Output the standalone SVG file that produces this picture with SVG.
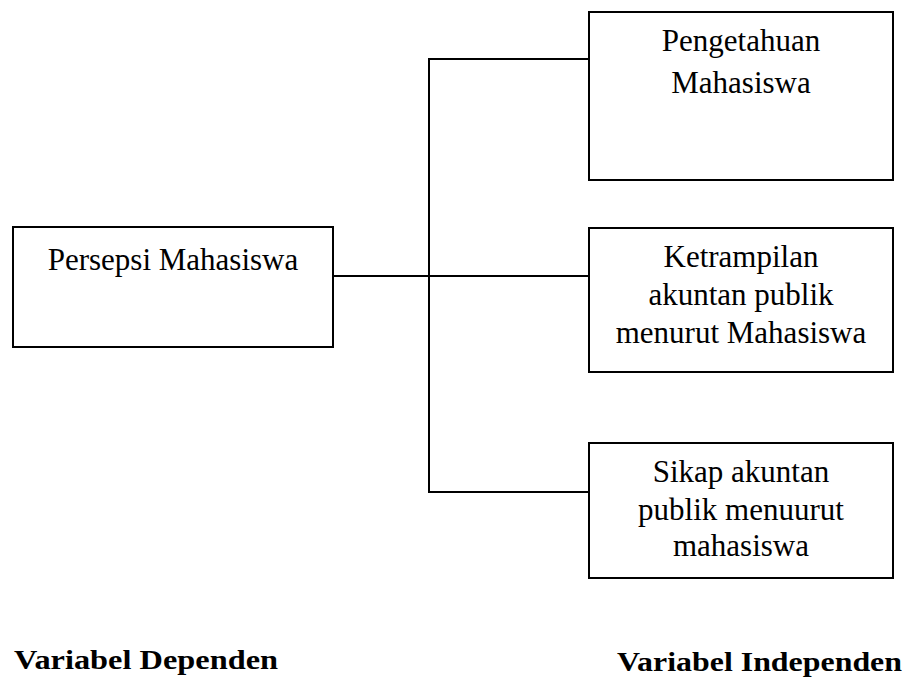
<svg xmlns="http://www.w3.org/2000/svg" width="912" height="680" viewBox="0 0 912 680">
<style>
.box{fill:#fff;stroke:#000;stroke-width:2}
.t{font-family:"Liberation Serif","Times New Roman",serif;font-size:31px;fill:#000;text-anchor:middle}
.b{font-family:"Liberation Serif","Times New Roman",serif;font-size:27px;font-weight:bold;fill:#000}
.c{fill:none;stroke:#000;stroke-width:2}
</style>
<rect width="912" height="680" fill="#fff"/>
<g id="connectors">
<line class="c" x1="333" y1="276" x2="589" y2="276"/>
<polyline class="c" points="589,59 429,59 429,492 589,492"/>
</g>
<g id="persepsi">
<rect class="box" x="13" y="227" width="320" height="120"/>
<text class="t" x="173" y="270">Persepsi Mahasiswa</text>
</g>
<g id="pengetahuan">
<rect class="box" x="589" y="12" width="304" height="168"/>
<text class="t" x="741" y="51">Pengetahuan</text>
<text class="t" x="741" y="93">Mahasiswa</text>
</g>
<g id="ketrampilan">
<rect class="box" x="589" y="228" width="304" height="144"/>
<text class="t" x="741" y="267">Ketrampilan</text>
<text class="t" x="741" y="305">akuntan publik</text>
<text class="t" x="741" y="343">menurut Mahasiswa</text>
</g>
<g id="sikap">
<rect class="box" x="589" y="443" width="304" height="135"/>
<text class="t" x="741" y="482">Sikap akuntan</text>
<text class="t" x="741" y="520">publik menuurut</text>
<text class="t" x="741" y="556">mahasiswa</text>
</g>
<g id="labels">
<text class="b" x="14" y="669" textLength="264" lengthAdjust="spacingAndGlyphs">Variabel Dependen</text>
<text class="b" x="617" y="671" textLength="285" lengthAdjust="spacingAndGlyphs">Variabel Independen</text>
</g>
</svg>
